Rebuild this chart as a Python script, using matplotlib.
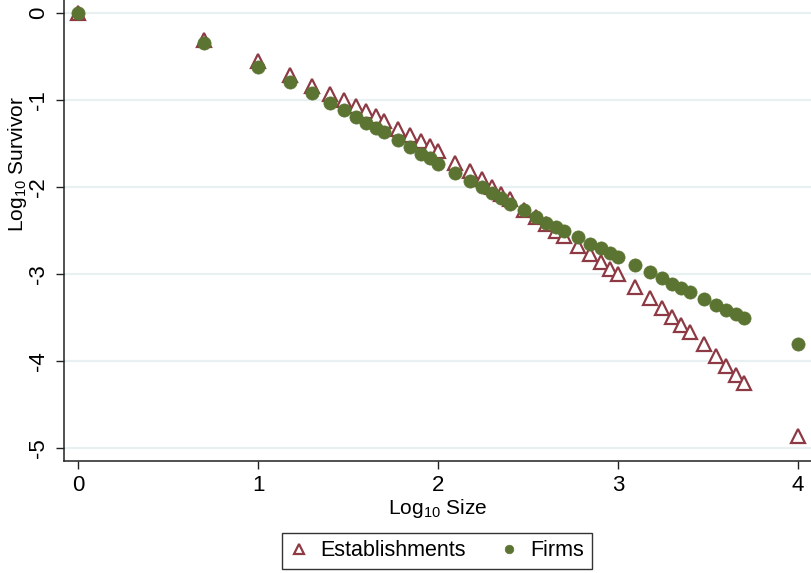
import numpy as np
import matplotlib
matplotlib.use("Agg")
import matplotlib.pyplot as plt

plt.rcParams['font.family'] = ['Liberation Sans', 'DejaVu Sans']
plt.rcParams['mathtext.fontset'] = 'custom'
plt.rcParams['mathtext.rm'] = 'Liberation Sans'
plt.rcParams['mathtext.it'] = 'Liberation Sans:italic'

# Size thresholds (x axis is log10 of these)
sizes = [1, 5, 10, 15, 20, 25, 30, 35, 40, 45, 50, 60, 70, 80, 90, 100,
         125, 150, 175, 200, 225, 250, 300, 350, 400, 450, 500, 600, 700,
         800, 900, 1000, 1250, 1500, 1750, 2000, 2250, 2500, 3000, 3500,
         4000, 4500, 5000, 10000]

establishments = [0.0, -0.31, -0.55, -0.71, -0.84, -0.93, -1.00, -1.07, -1.13,
                  -1.18, -1.24, -1.33, -1.40, -1.47, -1.53, -1.59, -1.72, -1.82,
                  -1.91, -2.00, -2.08, -2.14, -2.26, -2.35, -2.43, -2.51, -2.56,
                  -2.68, -2.77, -2.86, -2.94, -3.00, -3.15, -3.28, -3.39, -3.49,
                  -3.59, -3.67, -3.81, -3.94, -4.06, -4.16, -4.25, -4.86]

firms = [0.0, -0.35, -0.62, -0.79, -0.92, -1.03, -1.11, -1.20, -1.26, -1.32,
         -1.37, -1.46, -1.54, -1.62, -1.67, -1.73, -1.84, -1.93, -2.00, -2.07,
         -2.13, -2.19, -2.27, -2.34, -2.41, -2.46, -2.51, -2.58, -2.65, -2.70,
         -2.76, -2.80, -2.90, -2.98, -3.05, -3.11, -3.16, -3.21, -3.29, -3.36,
         -3.41, -3.46, -3.50, -3.80]

x_ticks = [0, 1, 2, 3, 4]
y_ticks = [0, -1, -2, -3, -4, -5]

W, H = 811, 573
fig = plt.figure(figsize=(W / 100, H / 100), dpi=100)
ax = fig.add_axes([64 / W, (H - 461) / H, 1 - 64 / W, 461 / H])

x = np.log10(sizes)
maroon = '#8e3a44'
green = '#5b7431'

ax.plot(x, establishments, linestyle='none', marker='^', markersize=10.5,
        markerfacecolor='white', markeredgecolor=maroon, markeredgewidth=1.6,
        label='Establishments', zorder=3)
ax.plot(x, firms, linestyle='none', marker='o', markersize=9.5,
        markerfacecolor=green, markeredgecolor=green, markeredgewidth=0.5,
        label='Firms', zorder=4)

ax.set_xlim(-14 / 180, 4 + 13 / 180)
ax.set_ylim(-448 / 87, 13 / 87)

ax.set_xticks(x_ticks)
ax.set_yticks(y_ticks)
ax.set_yticklabels([str(v) for v in y_ticks], rotation=90, va='center')
ax.tick_params(axis='both', direction='out', length=6, width=1,
               labelsize=16, color='#222222')
ax.tick_params(axis='y', pad=5)
ax.tick_params(axis='x', pad=4)

for yv in y_ticks:
    ax.axhline(yv, color='#e8f0f2', lw=1.6, zorder=1)

for s in ['top', 'right']:
    ax.spines[s].set_visible(False)
for s in ['left', 'bottom']:
    ax.spines[s].set_color('#222222')
    ax.spines[s].set_linewidth(1.1)

fig.text(438 / W, 1 - 508 / H, 'Log$_{10}$ Size', ha='center', va='center',
         fontsize=15)
fig.text(18 / W, 1 - 164 / H, 'Log$_{10}$ Survivor', ha='center', va='center',
         fontsize=15, rotation=90)

leg = fig.legend(loc='center', bbox_to_anchor=(437 / W, 1 - 551 / H), ncol=2,
                 fontsize=15.5, frameon=True, fancybox=False, markerscale=0.65,
                 handlelength=0.8, handletextpad=0.6, columnspacing=1.6,
                 borderpad=0.35, borderaxespad=0.0, edgecolor='black')
leg.get_frame().set_linewidth(1.0)

fig.savefig('out.png', dpi=100)
